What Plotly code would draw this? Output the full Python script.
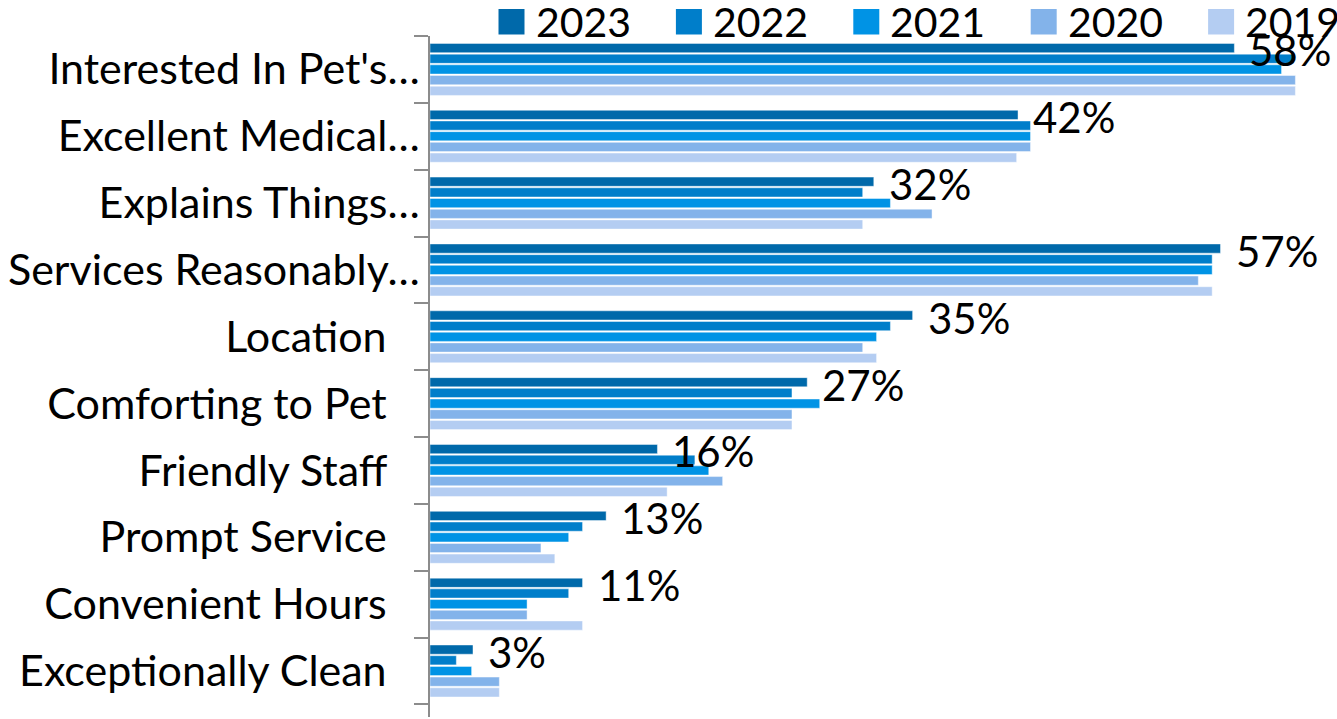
import plotly.graph_objects as go

# Survey categories (top to bottom) and share of respondents per year, in %
categories = [
    "Interested In Pet's…",
    "Excellent Medical…",
    "Explains Things…",
    "Services Reasonably…",
    "Location",
    "Comforting to Pet",
    "Friendly Staff",
    "Prompt Service",
    "Convenient Hours",
    "Exceptionally Clean",
]
years = ["2023", "2022", "2021", "2020", "2019"]
v2023 = [58.0, 42.4, 32.0, 57.0, 34.8, 27.2, 16.4, 12.7, 11.0, 3.1]
v2022 = [62.3, 43.3, 31.2, 56.4, 33.2, 26.1, 19.1, 11.0, 10.0, 1.9]
v2021 = [61.4, 43.3, 33.2, 56.4, 32.2, 28.1, 20.1, 10.0, 7.0, 3.0]
v2020 = [62.4, 43.3, 36.2, 55.4, 31.2, 26.1, 21.1, 8.0, 7.0, 5.0]
v2019 = [62.4, 42.3, 31.2, 56.4, 32.2, 26.1, 17.1, 9.0, 11.0, 5.0]

series = [v2023, v2022, v2021, v2020, v2019]
colors = ["#0069AA", "#007ECA", "#0093E5", "#83B3EA", "#B4CDF2"]

FONT = "Lato"
W, H = 1337, 719
L, R, T, B = 430, 0, 36, 2
plot_w = W - L - R
plot_h = H - T - B
x_max = 65.4

fig = go.Figure()
for name, vals, col in zip(years, series, colors):
    fig.add_trace(go.Bar(
        y=categories, x=vals, name=name, orientation="h",
        marker=dict(color=col, line=dict(color="rgba(255,255,255,0.55)", width=0.8)),
        showlegend=False,
    ))

# value labels next to the 2023 bars
annotations = []
for cat, val in zip(categories, v2023):
    annotations.append(dict(
        x=val, y=cat, xref="x", yref="y", text=f"{val:.0f}%",
        showarrow=False, xanchor="left", yanchor="middle",
        xshift=13, yshift=19,
        font=dict(family=FONT, size=42, color="#000000"),
    ))

# legend row drawn along the top edge
shapes = []
def px_x(px):
    return (px - L) / plot_w
def px_y(py):
    return (H - B - py) / plot_h

for k, (name, col) in enumerate(zip(years, colors)):
    left = 498.5 + 177.4 * k
    shapes.append(dict(
        type="rect", xref="paper", yref="paper",
        x0=px_x(left), x1=px_x(left + 26), y0=px_y(34.5), y1=px_y(9),
        fillcolor=col, line=dict(width=0),
    ))
    annotations.append(dict(
        x=px_x(left + 35), y=px_y(21), xref="paper", yref="paper",
        text=name, showarrow=False, xanchor="left", yanchor="middle",
        font=dict(family=FONT, size=41, color="#000000"),
    ))

tick_text = [c if c.endswith("…") else c + "\u00a0\u00a0\u00a0" for c in categories]

fig.update_layout(
    width=W, height=H,
    margin=dict(l=L, r=R, t=T, b=B, pad=0),
    paper_bgcolor="white", plot_bgcolor="white",
    barmode="group", bargap=0.2, bargroupgap=0.14,
    font=dict(family=FONT, size=43, color="#000000"),
    xaxis=dict(range=[0, x_max], visible=False, showgrid=False, zeroline=False),
    yaxis=dict(
        type="category", autorange="reversed",
        tickvals=categories, ticktext=tick_text,
        tickson="boundaries", ticks="outside", ticklen=14,
        tickcolor="#8C8C8C", tickwidth=1.5,
        showline=True, linecolor="#8C8C8C", linewidth=1.5,
        showgrid=False, zeroline=False,
        tickfont=dict(family=FONT, size=43, color="#000000"),
    ),
    annotations=annotations,
    shapes=shapes,
    showlegend=False,
)

fig.write_html("out.html")
